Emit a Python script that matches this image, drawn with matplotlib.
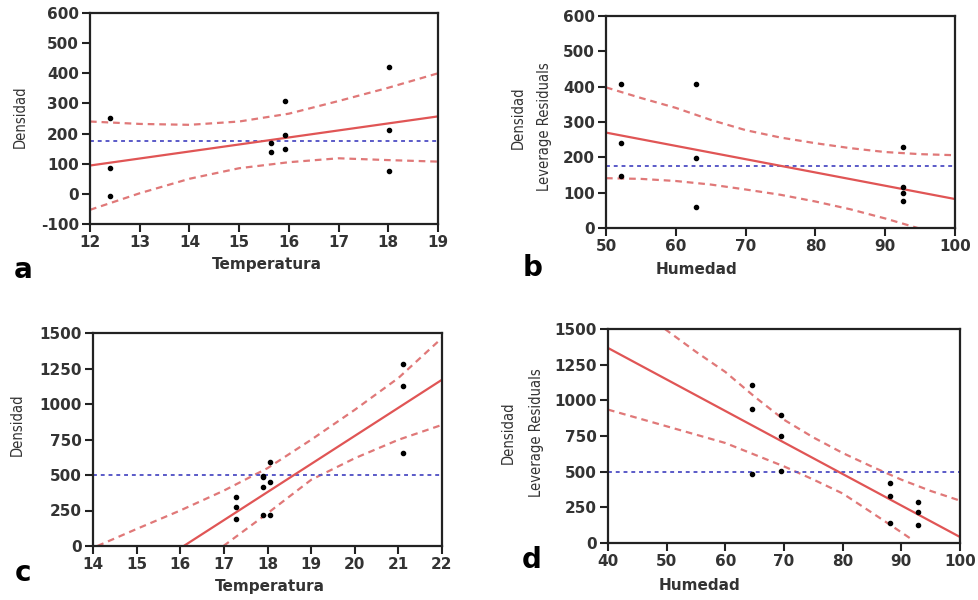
import numpy as np
import matplotlib.pyplot as plt

plt.rcParams['axes.unicode_minus'] = False

# panel a: Densidad vs Temperatura
a_x = [12.4, 12.4, 12.4, 15.64, 15.64, 15.92, 15.92, 15.92, 18.02, 18.02, 18.02]
a_y = [252, 87, -6, 168, 140, 308, 195, 150, 422, 212, 76]
a_fit_x = [12, 19]
a_fit_y = [94, 257]
a_ci_x = [12, 13, 14, 15, 16, 17, 18, 19]
a_ci_up = [240, 232, 229, 240, 266, 308, 352, 400]
a_ci_lo = [-53, 2, 50, 85, 105, 118, 112, 107]
a_mean = 176

# panel b: Densidad vs Humedad
b_x = [52.2, 52.2, 52.2, 62.9, 62.9, 62.9, 92.6, 92.6, 92.6, 92.6]
b_y = [407, 240, 148, 407, 199, 60, 230, 115, 98, 77]
b_fit_x = [50, 100]
b_fit_y = [270, 82]
b_ci_x = [50, 55, 60, 65, 70, 75, 80, 85, 90, 95, 100]
b_ci_up = [398, 368, 340, 306, 277, 256, 240, 226, 215, 209, 206]
b_ci_lo = [141, 139, 133, 123, 109, 94, 75, 53, 27, -2, -32]
b_mean = 176

# panel c: Densidad vs Temperatura
c_x = [17.28, 17.28, 17.28, 17.9, 17.9, 17.9, 17.9, 18.05, 18.05, 18.05, 21.1, 21.1, 21.1]
c_y = [343, 277, 193, 496, 488, 418, 219, 595, 449, 216, 1284, 1124, 654]
c_fit_x = [16.08, 22]
c_fit_y = [0, 1171]
c_up_x = [14.1, 15, 16, 17, 18, 19, 20, 21, 22]
c_ci_up = [0, 120, 250, 390, 548, 748, 959, 1183, 1465]
c_lo_x = [16.99, 18, 19, 20, 21, 22]
c_ci_lo = [0, 230, 466, 618, 748, 853]
c_mean = 500

# panel d: Densidad vs Humedad
d_x = [64.5, 64.5, 64.5, 69.5, 69.5, 69.5, 88.1, 88.1, 88.1, 92.9, 92.9, 92.9]
d_y = [1105, 939, 486, 900, 752, 507, 420, 327, 140, 287, 217, 128]
d_fit_x = [40, 100]
d_fit_y = [1367, 42]
d_up_x = [49.7, 55, 60, 65, 70, 75, 80, 85, 90, 95, 100]
d_ci_up = [1500, 1340, 1199, 1025, 864, 740, 631, 535, 444, 365, 297]
d_lo_x = [40, 50, 60, 70, 75, 80, 85, 90, 91.6]
d_ci_lo = [935, 818, 701, 537, 445, 347, 212, 75, 30]
d_mean = 500

red = '#e05555'
red_dash = '#e07878'
blue = '#5a5ac8'
tick_col = '#333333'

W, H = 979, 600
fig = plt.figure(figsize=(W / 100, H / 100), dpi=100)


def add_axes(x0, y0, x1, y1):
    return fig.add_axes([x0 / W, 1 - y1 / H, (x1 - x0) / W, (y1 - y0) / H])


def style(ax, xlim, ylim, xticks, yticks):
    ax.set_xlim(xlim)
    ax.set_ylim(ylim)
    ax.set_xticks(xticks)
    ax.set_yticks(yticks)
    for s in ax.spines.values():
        s.set_linewidth(1.6)
        s.set_color('#222222')
    ax.tick_params(direction='out', length=6, width=1.5, colors='#222222',
                   labelcolor=tick_col, labelsize=11, pad=2)
    for lab in ax.get_xticklabels() + ax.get_yticklabels():
        lab.set_fontweight('bold')


def draw(ax, x, y, fx, fy, ux, uy, lx, ly, mean, xlim):
    ax.plot(ux, uy, color=red_dash, lw=1.6, ls=(0, (3, 2.2)))
    ax.plot(lx, ly, color=red_dash, lw=1.6, ls=(0, (3, 2.2)))
    ax.plot(xlim, [mean, mean], color=blue, lw=1.4, ls=(0, (2, 2)))
    ax.plot(fx, fy, color=red, lw=1.6)
    ax.scatter(x, y, s=9, color='black', zorder=5)


lab_font = dict(fontsize=11, fontweight='bold', color='#333333', va='center')
ylab_font = dict(fontsize=10.5, color='#333333', fontstretch='condensed')

# a
ax = add_axes(90, 13, 438, 224)
draw(ax, a_x, a_y, a_fit_x, a_fit_y, a_ci_x, a_ci_up, a_ci_x, a_ci_lo, a_mean, [12, 19])
style(ax, (12, 19), (-100, 600), range(12, 20), range(-100, 601, 100))
ax.set_xlabel('Temperatura', **lab_font)
ax.xaxis.set_label_coords((267 - 90) / 348, -(265 - 224) / 211)
fig.text(20 / W, 1 - 117 / H, 'Densidad', rotation=90, ha='center', va='center', **ylab_font)
fig.text(23 / W, 1 - 270 / H, 'a', fontsize=20, fontweight='bold', ha='center', va='center')

# b
ax = add_axes(606, 16, 955, 228)
draw(ax, b_x, b_y, b_fit_x, b_fit_y, b_ci_x, b_ci_up, b_ci_x, b_ci_lo, b_mean, [50, 100])
style(ax, (50, 100), (0, 600), range(50, 101, 10), range(0, 601, 100))
ax.set_xlabel('Humedad', **lab_font)
ax.xaxis.set_label_coords((697 - 606) / 349, -(270 - 228) / 212)
fig.text(518 / W, 1 - 118 / H, 'Densidad', rotation=90, ha='center', va='center', **ylab_font)
fig.text(545 / W, 1 - 127 / H, 'Leverage Residuals', rotation=90, ha='center', va='center', **ylab_font)
fig.text(533 / W, 1 - 268 / H, 'b', fontsize=20, fontweight='bold', ha='center', va='center')

# c
ax = add_axes(93, 333, 442, 546)
draw(ax, c_x, c_y, c_fit_x, c_fit_y, c_up_x, c_ci_up, c_lo_x, c_ci_lo, c_mean, [14, 22])
style(ax, (14, 22), (0, 1500), range(14, 23), range(0, 1501, 250))
ax.set_xlabel('Temperatura', **lab_font)
ax.xaxis.set_label_coords((270 - 93) / 349, -(587 - 546) / 213)
fig.text(17 / W, 1 - 425 / H, 'Densidad', rotation=90, ha='center', va='center', **ylab_font)
fig.text(23 / W, 1 - 573 / H, 'c', fontsize=20, fontweight='bold', ha='center', va='center')

# d
ax = add_axes(608, 329, 960, 543)
draw(ax, d_x, d_y, d_fit_x, d_fit_y, d_up_x, d_ci_up, d_lo_x, d_ci_lo, d_mean, [40, 100])
style(ax, (40, 100), (0, 1500), range(40, 101, 10), range(0, 1501, 250))
ax.set_xlabel('Humedad', **lab_font)
ax.xaxis.set_label_coords((700 - 608) / 352, -(585 - 543) / 214)
fig.text(508 / W, 1 - 433 / H, 'Densidad', rotation=90, ha='center', va='center', **ylab_font)
fig.text(537 / W, 1 - 433 / H, 'Leverage Residuals', rotation=90, ha='center', va='center', **ylab_font)
fig.text(532 / W, 1 - 560 / H, 'd', fontsize=20, fontweight='bold', ha='center', va='center')

fig.savefig('out.png', dpi=100)
